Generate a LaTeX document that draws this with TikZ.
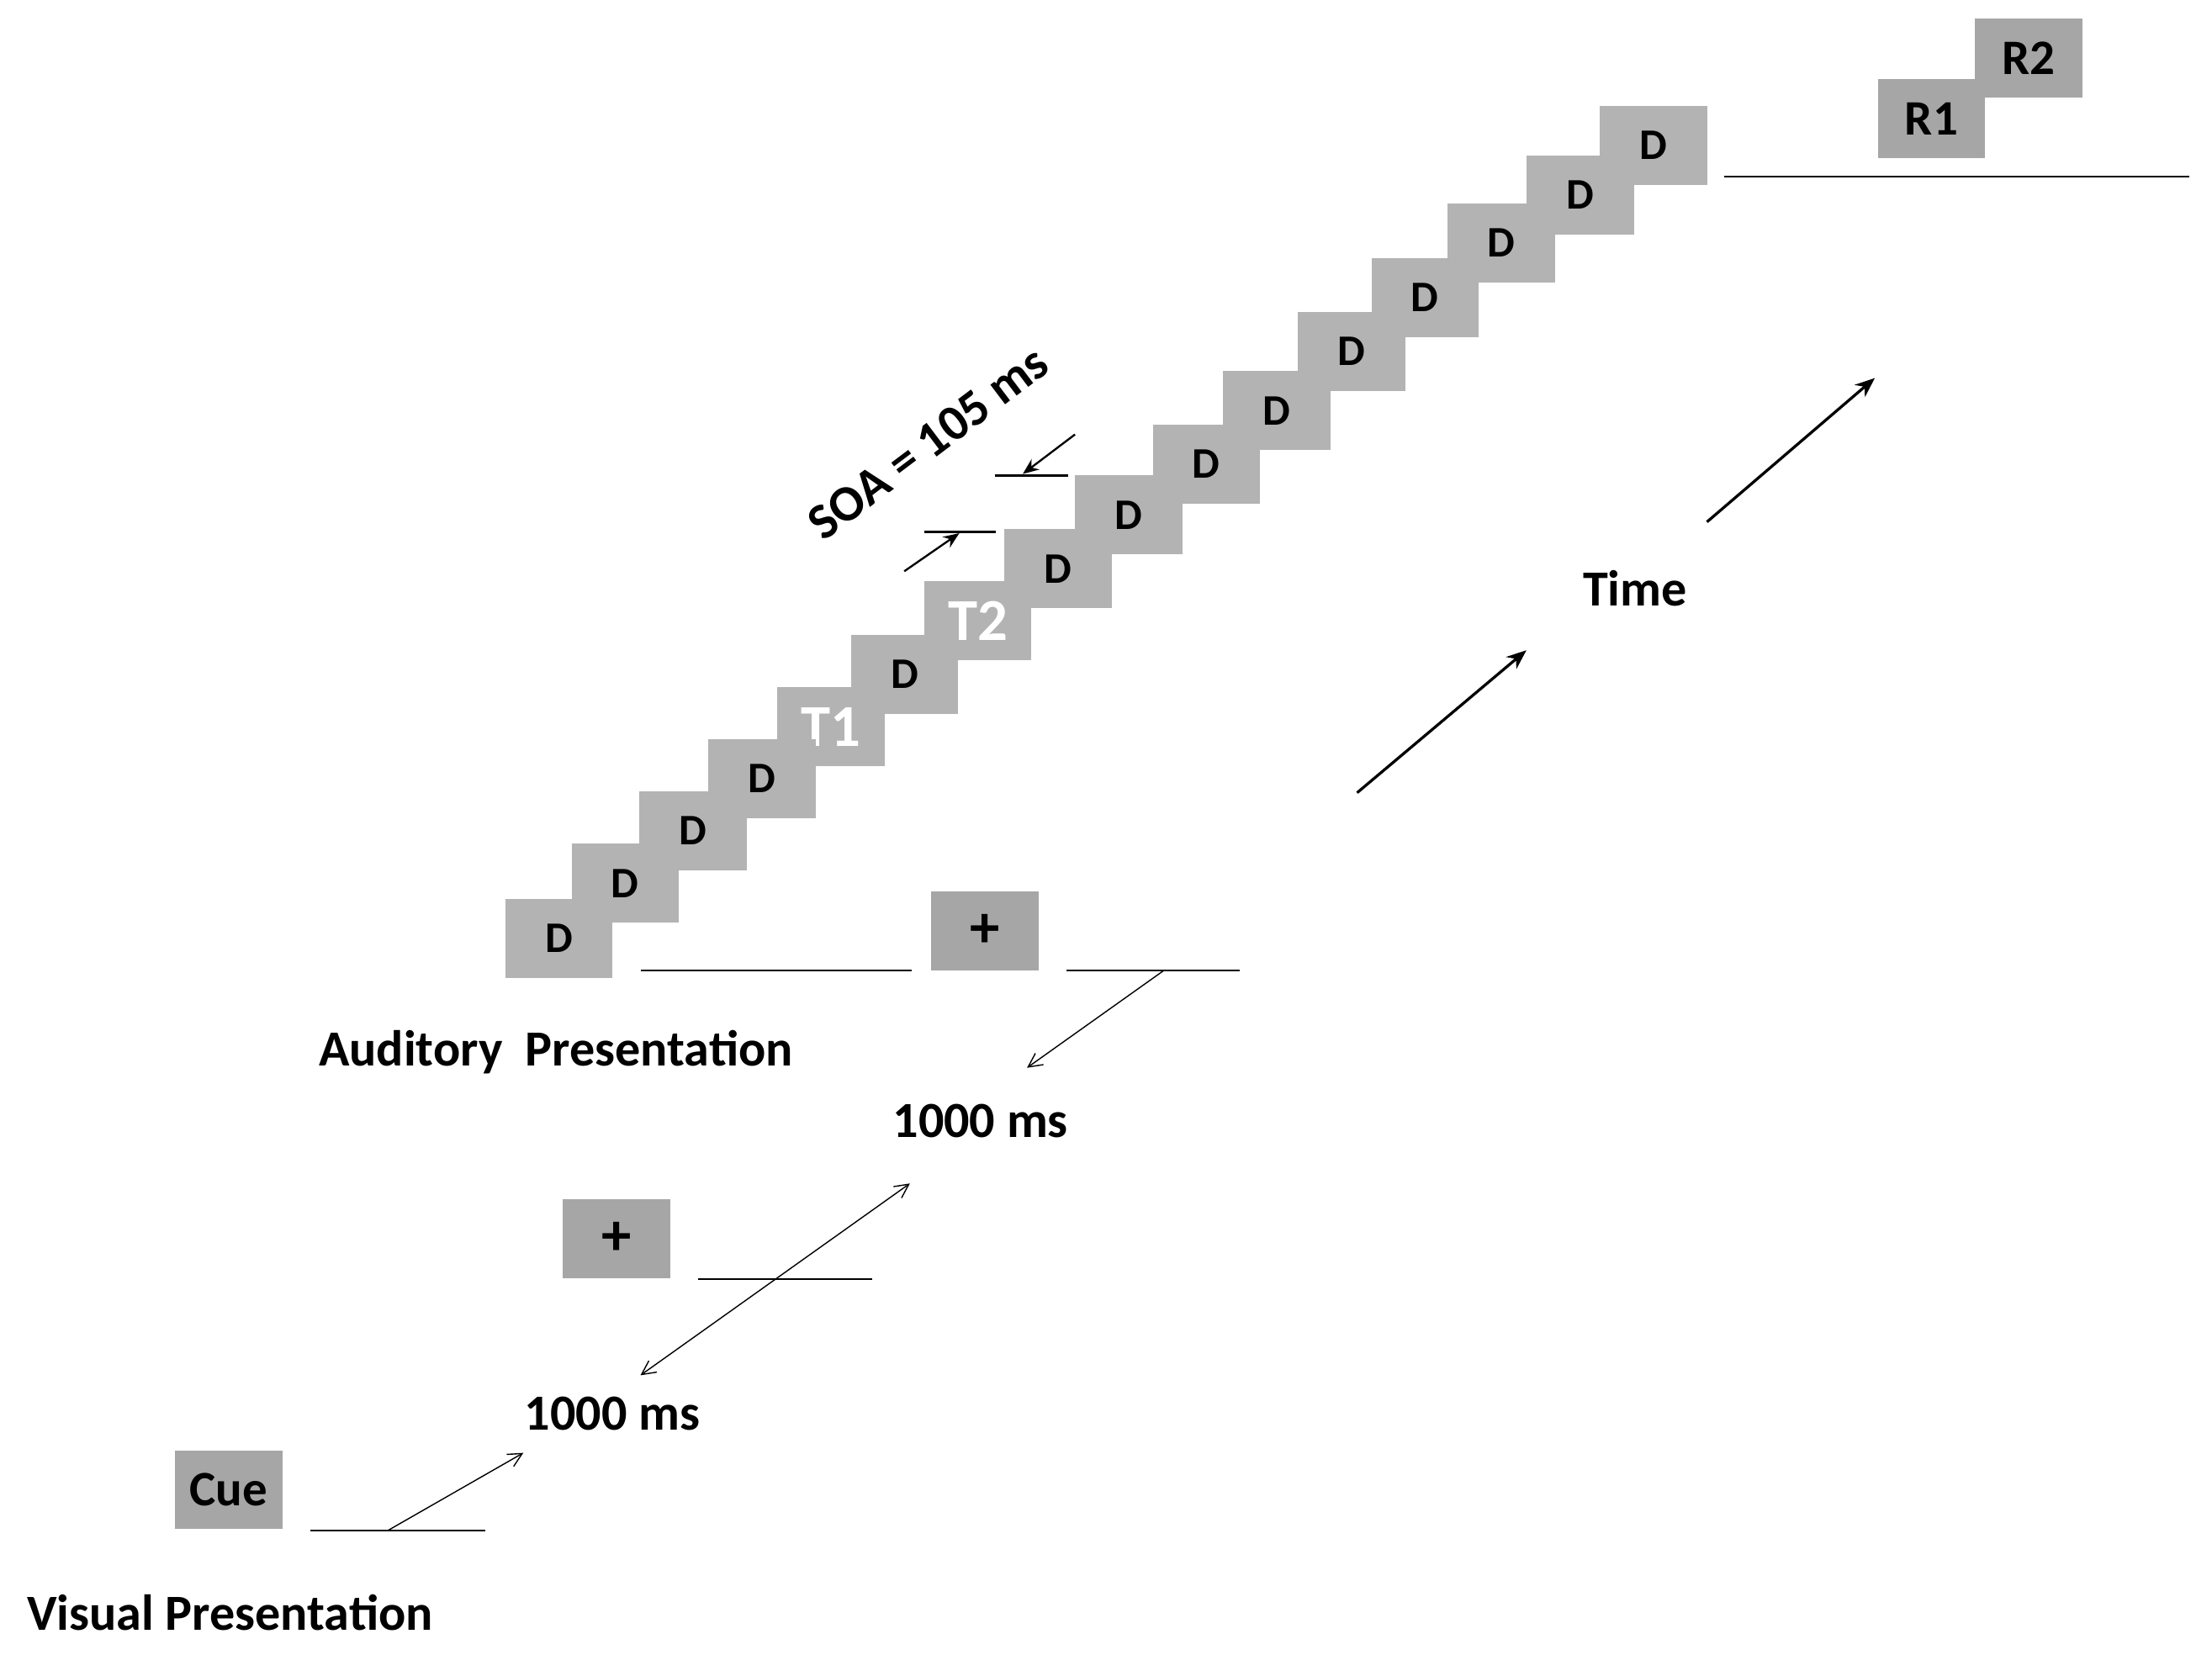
\documentclass[tikz,border=0pt]{standalone}
\usepackage{fontspec}
\setmainfont{Carlito}
\usetikzlibrary{arrows.meta}
\definecolor{bx}{HTML}{B3B3B3}
\definecolor{bxd}{HTML}{A6A6A6}
\begin{document}
\begin{tikzpicture}[x=0.05cm,y=-0.05cm,
  box/.style={fill=bx,minimum width=3.8cm,minimum height=2.8cm,inner sep=0,font=\fontsize{44}{50}\selectfont\bfseries,anchor=north west},
  dbox/.style={box,fill=bxd,font=\fontsize{50}{56}\selectfont\bfseries},
  tbox/.style={box,text=white,font=\fontsize{60}{66}\selectfont\bfseries},
  lab/.style={font=\fontsize{51}{58}\selectfont\bfseries},
  ln/.style={line width=1.6pt},
  thin arrow/.style={line width=1.2pt,-{Straight Barb[length=14pt,width=14pt]}},
  thick arrow/.style={line width=2.8pt,-{Stealth[length=20pt,width=16pt]}}]
\useasboundingbox (0,0) rectangle (1568,1173);
% staircase drawn from last to first so earlier boxes lie on top
\node[box] (s16) at (1134,75) {D};
\node[box] (s15) at (1082,110) {D};
\node[box] (s14) at (1026,144) {D};
\node[box] (s13) at (972,183) {D};
\node[box] (s12) at (920,221) {D};
\node[box] (s11) at (867,263) {D};
\node[box] (s10) at (817,301) {D};
\node[box] (s9) at (762,337) {D};
\node[box] (s8) at (712,375) {D};
\node[tbox] (s7) at (655,412) {T2};
\node[box] (s6) at (603,450) {D};
\node[tbox] (s5) at (551,487) {T1};
\node[box] (s4) at (502,524) {D};
\node[box] (s3) at (453,561) {D};
\node[box] (s2) at (405,598) {D};
\node[box] (s1) at (358,637) {D};
\node[dbox,font=\fontsize{60}{64}\selectfont\bfseries] (fixA) at (660,632) {+};
\node[dbox,font=\fontsize{60}{64}\selectfont\bfseries] (fixV) at (399,850) {+};
\node[dbox] (cue) at (124,1028) {Cue};
\node[dbox] (r1) at (1331,56) {R1};
\node[dbox] (r2) at (1400,13) {R2};
% time lines
\coordinate (a1) at (454,688); \coordinate (a2) at (646,688);
\coordinate (a3) at (756,688); \coordinate (a4) at (879,688);
\coordinate (a5) at (825,688); \coordinate (a6) at (728,757);
\draw[ln] (a1) -- (a2); \draw[ln] (a3) -- (a4);
\draw[thin arrow] (a5) -- (a6);
\coordinate (v1) at (495,907); \coordinate (v2) at (618,907);
\draw[ln] (v1) -- (v2);
\coordinate (d1) at (454,975); \coordinate (d2) at (645,839);
\draw[thin arrow,{Straight Barb[length=14pt,width=14pt]}-{Straight Barb[length=14pt,width=14pt]}] (d1) -- (d2);
\coordinate (c1) at (220,1085); \coordinate (c2) at (344,1085);
\coordinate (c3) at (275,1085); \coordinate (c4) at (371,1030);
\draw[ln] (c1) -- (c2); \draw[thin arrow] (c3) -- (c4);
\coordinate (t1) at (1222,125); \coordinate (t2) at (1552,125);
\draw[ln] (t1) -- (t2);
% time arrows
\coordinate (ta1) at (962,562); \coordinate (ta2) at (1082,461);
\coordinate (ta3) at (1210,370); \coordinate (ta4) at (1329,268);
\draw[thick arrow] (ta1) -- (ta2); \draw[thick arrow] (ta3) -- (ta4);
% SOA markers
\coordinate (o1) at (655,377); \coordinate (o2) at (706,377);
\coordinate (o3) at (641,405); \coordinate (o4) at (680,378);
\coordinate (o5) at (705,337); \coordinate (o6) at (757,337);
\coordinate (o7) at (762,308); \coordinate (o8) at (725,336);
\draw[ln,line width=2.2pt] (o1) -- (o2); \draw[ln,line width=2.2pt] (o5) -- (o6);
\draw[thick arrow,line width=2pt,-{Stealth[length=16pt,width=13pt]}] (o3) -- (o4);
\draw[thick arrow,line width=2pt,-{Stealth[length=16pt,width=13pt]}] (o7) -- (o8);
% labels
\node[lab,rotate=37] (soa) at (658,314) {SOA = 105 ms};
\node[lab] (time) at (1159,417) {Time};
\node[lab] (aud) at (394,746) {Auditory\ \ Presentation};
\node[lab] (ms1) at (695,795) {1000 ms};
\node[lab] (ms2) at (434,1002) {1000 ms};
\node[lab] (vis) at (163,1143) {Visual Presentation};
\end{tikzpicture}
\end{document}
